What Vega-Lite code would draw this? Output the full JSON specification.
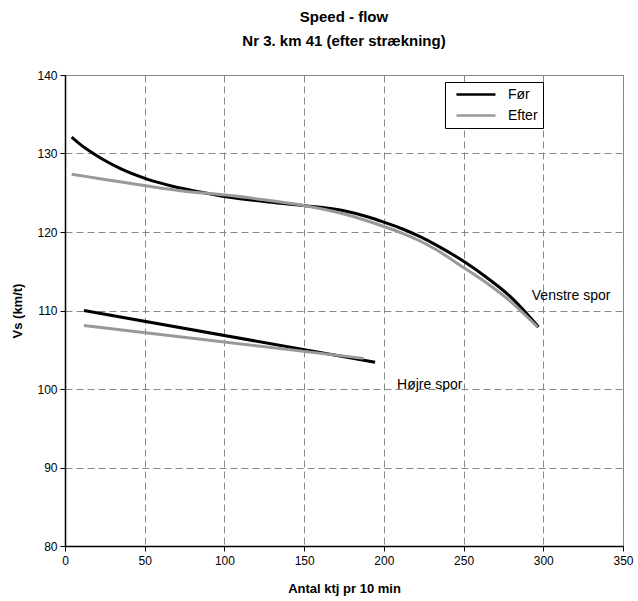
{
  "$schema": "https://vega.github.io/schema/vega-lite/v6.json",
  "width": 558,
  "height": 471,
  "autosize": {"type": "none"},
  "padding": {"left": 65, "top": 75, "right": 15, "bottom": 55},
  "background": "white",
  "title": {
    "text": ["Speed - flow", "Nr 3. km 41 (efter strækning)"],
    "font": "Liberation Sans",
    "fontSize": 15,
    "fontWeight": "bold",
    "lineHeight": 24,
    "offset": 20,
    "anchor": "middle",
    "color": "#000000"
  },
  "config": {
    "view": {"stroke": "#808080", "strokeWidth": 1},
    "axis": {
      "labelFont": "Liberation Sans",
      "labelFontSize": 12,
      "labelColor": "#000000",
      "titleFont": "Liberation Sans",
      "titleFontSize": 13,
      "titleFontWeight": "bold",
      "titleColor": "#000000",
      "domainColor": "#000000",
      "domainWidth": 1.5,
      "tickColor": "#000000",
      "tickSize": 5,
      "gridColor": "#888888",
      "gridDash": [7, 4],
      "gridWidth": 1
    }
  },
  "datasets": {
    "curves": [
      {"serie": "Før", "spor": "venstre", "q": 4.2, "v": 132.1},
      {"serie": "Før", "spor": "venstre", "q": 10, "v": 131.1},
      {"serie": "Før", "spor": "venstre", "q": 17.8, "v": 130.0},
      {"serie": "Før", "spor": "venstre", "q": 25, "v": 129.1},
      {"serie": "Før", "spor": "venstre", "q": 34.5, "v": 128.1},
      {"serie": "Før", "spor": "venstre", "q": 50.6, "v": 126.8},
      {"serie": "Før", "spor": "venstre", "q": 68, "v": 125.8},
      {"serie": "Før", "spor": "venstre", "q": 84.7, "v": 125.1},
      {"serie": "Før", "spor": "venstre", "q": 101, "v": 124.5},
      {"serie": "Før", "spor": "venstre", "q": 125, "v": 123.9},
      {"serie": "Før", "spor": "venstre", "q": 150.6, "v": 123.35},
      {"serie": "Før", "spor": "venstre", "q": 175, "v": 122.7},
      {"serie": "Før", "spor": "venstre", "q": 191.3, "v": 121.85},
      {"serie": "Før", "spor": "venstre", "q": 200, "v": 121.25},
      {"serie": "Før", "spor": "venstre", "q": 212.2, "v": 120.35},
      {"serie": "Før", "spor": "venstre", "q": 222.7, "v": 119.4},
      {"serie": "Før", "spor": "venstre", "q": 233.2, "v": 118.3},
      {"serie": "Før", "spor": "venstre", "q": 250.5, "v": 116.2},
      {"serie": "Før", "spor": "venstre", "q": 264.5, "v": 114.2},
      {"serie": "Før", "spor": "venstre", "q": 279.2, "v": 111.8},
      {"serie": "Før", "spor": "venstre", "q": 297, "v": 107.9},
      {"serie": "Efter", "spor": "venstre", "q": 4.2, "v": 127.35},
      {"serie": "Efter", "spor": "venstre", "q": 25, "v": 126.7},
      {"serie": "Efter", "spor": "venstre", "q": 50.6, "v": 125.9},
      {"serie": "Efter", "spor": "venstre", "q": 75, "v": 125.2},
      {"serie": "Efter", "spor": "venstre", "q": 101, "v": 124.7},
      {"serie": "Efter", "spor": "venstre", "q": 125, "v": 124.1},
      {"serie": "Efter", "spor": "venstre", "q": 150.6, "v": 123.35},
      {"serie": "Efter", "spor": "venstre", "q": 175, "v": 122.3},
      {"serie": "Efter", "spor": "venstre", "q": 191.3, "v": 121.3},
      {"serie": "Efter", "spor": "venstre", "q": 200, "v": 120.7},
      {"serie": "Efter", "spor": "venstre", "q": 212.2, "v": 119.8},
      {"serie": "Efter", "spor": "venstre", "q": 222.7, "v": 118.85},
      {"serie": "Efter", "spor": "venstre", "q": 233.2, "v": 117.7},
      {"serie": "Efter", "spor": "venstre", "q": 250.5, "v": 115.4},
      {"serie": "Efter", "spor": "venstre", "q": 264.5, "v": 113.5},
      {"serie": "Efter", "spor": "venstre", "q": 279.2, "v": 111.2},
      {"serie": "Efter", "spor": "venstre", "q": 296.4, "v": 107.9},
      {"serie": "Før", "spor": "højre", "q": 11.9, "v": 110.0},
      {"serie": "Før", "spor": "højre", "q": 194.5, "v": 103.4},
      {"serie": "Efter", "spor": "højre", "q": 11.9, "v": 108.1},
      {"serie": "Efter", "spor": "højre", "q": 187.2, "v": 103.9}
    ],
    "labels": [
      {"q": 292.8, "v": 111.9, "label": "Venstre spor"},
      {"q": 208.3, "v": 100.5, "label": "Højre spor"}
    ]
  },
  "layer": [
    {
      "data": {"name": "curves"},
      "mark": {"type": "line", "interpolate": "monotone", "strokeWidth": 3},
      "encoding": {
        "x": {
          "field": "q", "type": "quantitative",
          "scale": {"domain": [0, 350], "nice": false},
          "axis": {"values": [0, 50, 100, 150, 200, 250, 300, 350], "title": "Antal ktj pr 10 min", "labelPadding": 4, "titlePadding": 16, "labelFlush": false}
        },
        "y": {
          "field": "v", "type": "quantitative",
          "scale": {"domain": [80, 140], "nice": false, "zero": false},
          "axis": {"values": [80, 90, 100, 110, 120, 130, 140], "title": "Vs (km/t)", "labelPadding": 3, "titlePadding": 12}
        },
        "color": {
          "field": "serie", "type": "nominal",
          "scale": {"domain": ["Før", "Efter"], "range": ["#000000", "#999999"]},
          "legend": {
            "title": null,
            "orient": "none",
            "legendX": 380,
            "legendY": 7,
            "strokeColor": "#000000",
            "fillColor": "#ffffff",
            "padding": 5,
            "symbolType": "M-0.17,0H6.33",
            "symbolSize": 144,
            "symbolStrokeWidth": 2.5,
            "labelFont": "Liberation Sans",
            "labelFontSize": 14,
            "labelColor": "#000000",
            "labelOffset": 43,
            "labelExpr": "datum.label + '\u00a0\u00a0\u00a0'",
            "rowPadding": 6
          }
        },
        "detail": {"field": "spor", "type": "nominal"},
        "order": {"field": "q", "type": "quantitative"}
      }
    },
    {
      "data": {"name": "labels"},
      "mark": {"type": "text", "align": "left", "baseline": "middle", "font": "Liberation Sans", "fontSize": 14, "color": "#000000"},
      "encoding": {
        "x": {"field": "q", "type": "quantitative"},
        "y": {"field": "v", "type": "quantitative"},
        "text": {"field": "label"}
      }
    }
  ]
}
